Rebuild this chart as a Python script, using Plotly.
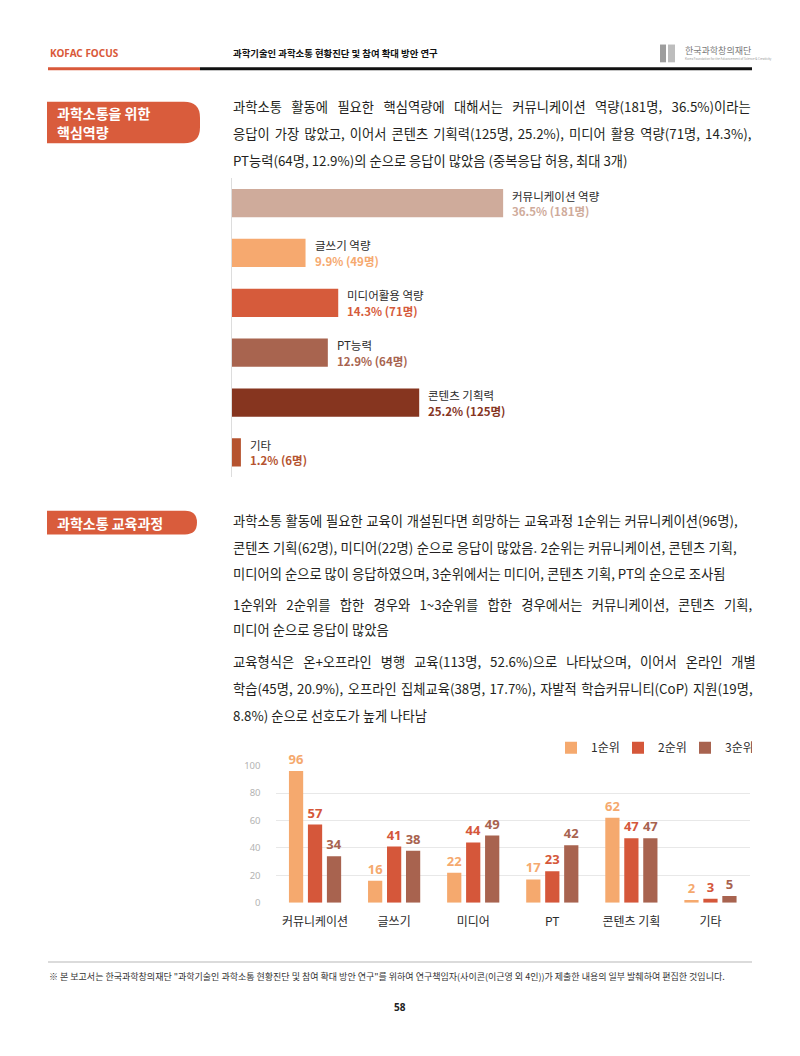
import plotly.graph_objects as go

# ---------------- data ----------------
comp_categories = ["커뮤니케이션 역량", "글쓰기 역량", "미디어활용 역량", "PT능력", "콘텐츠 기획력", "기타"]
comp_pct = [36.5, 9.9, 14.3, 12.9, 25.2, 1.2]
comp_count = [181, 49, 71, 64, 125, 6]
comp_colors = ["#cfab9b", "#f6a96f", "#d65b3b", "#a8644f", "#86351f", "#b5532f"]

edu_categories = ["커뮤니케이션", "글쓰기", "미디어", "PT", "콘텐츠 기획", "기타"]
rank_names = ["1순위", "2순위", "3순위"]
rank1 = [96, 16, 22, 17, 62, 2]
rank2 = [57, 41, 44, 23, 47, 3]
rank3 = [34, 38, 49, 42, 47, 5]
rank_colors = ["#f5a96e", "#d5573a", "#a8634f"]
edu_yticks = [0, 20, 40, 60, 80, 100]

# ---------------- helpers ----------------
W, H = 800, 1056
FONT = "Noto Sans CJK KR"


def px(x):
    return x / W


def py(y):
    return 1 - y / H


annotations = []
shapes = []


def text(x, y, s, size, color="#231f20", bold=False, anchor="left", family=FONT, wsp=None):
    if wsp:
        s = f'<span style="word-spacing:{wsp}px">{s}</span>'
    annotations.append(dict(
        xref="paper", yref="paper", x=px(x), y=py(y), text=s, showarrow=False,
        xanchor=anchor, yanchor="middle",
        font=dict(size=size, color=color, family=family, weight=700 if bold else 400),
    ))


def rounded_right_box(x0, y0, x1, y1, r, color):
    pts = (f"M{px(x0)},{py(y0)} L{px(x1 - r)},{py(y0)} "
           f"Q{px(x1)},{py(y0)} {px(x1)},{py(y0 + r)} "
           f"L{px(x1)},{py(y1 - r)} "
           f"Q{px(x1)},{py(y1)} {px(x1 - r)},{py(y1)} "
           f"L{px(x0)},{py(y1)} Z")
    shapes.append(dict(type="path", xref="paper", yref="paper", path=pts,
                       fillcolor=color, line=dict(width=0), layer="below"))


def hline(x0, x1, y, color, width):
    shapes.append(dict(type="line", xref="paper", yref="paper",
                       x0=px(x0), x1=px(x1), y0=py(y), y1=py(y),
                       line=dict(color=color, width=width)))


fig = go.Figure()

# ---------------- chart 1: horizontal bars ----------------
fig.add_trace(go.Bar(
    orientation="h", y=comp_categories, x=comp_pct,
    marker=dict(color=comp_colors, line=dict(width=0)),
    width=0.565, xaxis="x", yaxis="y", showlegend=False, hoverinfo="skip",
))
for cat, p, n, c in zip(comp_categories, comp_pct, comp_count, comp_colors):
    annotations.append(dict(xref="x", yref="y", x=p, y=cat, text=cat, showarrow=False,
                            xanchor="left", yanchor="middle", xshift=7, yshift=7.5,
                            font=dict(size=11.5, color="#2b2b2b", family=FONT)))
    annotations.append(dict(xref="x", yref="y", x=p, y=cat, text=f"{p}% ({n}명)",
                            showarrow=False, xanchor="left", yanchor="middle",
                            xshift=7, yshift=-8,
                            font=dict(size=11.5, color=c, family=FONT, weight=700)))

# ---------------- chart 2: grouped bars ----------------
for name, vals, c in zip(rank_names, [rank1, rank2, rank3], rank_colors):
    fig.add_trace(go.Bar(
        x=edu_categories, y=vals, name=name,
        marker=dict(color=c, line=dict(width=0)),
        text=vals, texttemplate="%{y}", textposition="outside",
        textfont=dict(color=c, size=13, family="Noto Sans", weight=700),
        constraintext="none", cliponaxis=False,
        xaxis="x2", yaxis="y2", hoverinfo="skip",
    ))

# ---------------- page furniture ----------------
# header
text(48, 47, "KOFAC FOCUS", 10, color="#d9593a", bold=True, family="Noto Sans")
text(231, 47, "과학기술인 과학소통 현황진단 및 참여 확대 방안 연구", 9.4, color="#111111", bold=True)
shapes.append(dict(type="rect", xref="paper", yref="paper", x0=px(660), x1=px(666),
                   y0=py(56), y1=py(38), fillcolor="#9d9d9d", line=dict(width=0)))
shapes.append(dict(type="rect", xref="paper", yref="paper", x0=px(668), x1=px(675),
                   y0=py(56), y1=py(38), fillcolor="#bdbdbd", line=dict(width=0)))
text(683, 44, "한국과학창의재단", 9, color="#7a7a7a")
text(683, 52.5, "Korea Foundation for the Advancement of Science &amp; Creativity", 3, color="#9a9a9a")
hline(200, 752, 62.5, "#111111", 3)
hline(48, 200, 62.5, "#d9593a", 3)

PSIZE = 13.3

# section 1
rounded_right_box(47, 96, 200, 138, 16, "#d95c3c")
text(55, 107, "과학소통을 위한", 14, color="#ffffff", bold=True)
text(55, 127, "핵심역량", 14, color="#ffffff", bold=True)
para1 = [
    ("과학소통 활동에 필요한 핵심역량에 대해서는 커뮤니케이션 역량(181명, 36.5%)이라는", 6.4),
    ("응답이 가장 많았고, 이어서 콘텐츠 기획력(125명, 25.2%), 미디어 활용 역량(71명, 14.3%),", 2.1),
    ("PT능력(64명, 12.9%)의 순으로 응답이 많았음 (중복응답 허용, 최대 3개)", None),
]
for i, (s, w) in enumerate(para1):
    text(231, 101 + 27 * i, s, PSIZE, wsp=w)

# section 2
rounded_right_box(47, 510, 197, 534, 12, "#d95c3c")
text(55, 522, "과학소통 교육과정", 14, color="#ffffff", bold=True)
para2 = [
    ("과학소통 활동에 필요한 교육이 개설된다면 희망하는 교육과정 1순위는 커뮤니케이션(96명),", 0.7),
    ("콘텐츠 기획(62명), 미디어(22명) 순으로 응답이 많았음. 2순위는 커뮤니케이션, 콘텐츠 기획,", 0.4),
    ("미디어의 순으로 많이 응답하였으며, 3순위에서는 미디어, 콘텐츠 기획, PT의 순으로 조사됨", None),
]
for i, (s, w) in enumerate(para2):
    text(231, 520 + 27 * i, s, PSIZE, wsp=w)
para3 = [
    ("1순위와 2순위를 합한 경우와 1~3순위를 합한 경우에서는 커뮤니케이션, 콘텐츠 기획,", 6.3),
    ("미디어 순으로 응답이 많았음", None),
]
for i, (s, w) in enumerate(para3):
    text(231, 605 + 25 * i, s, PSIZE, wsp=w)
para4 = [
    ("교육형식은 온+오프라인 병행 교육(113명, 52.6%)으로 나타났으며, 이어서 온라인 개별", 6.0),
    ("학습(45명, 20.9%), 오프라인 집체교육(38명, 17.7%), 자발적 학습커뮤니티(CoP) 지원(19명,", 1.4),
    ("8.8%) 순으로 선호도가 높게 나타남", None),
]
for i, (s, w) in enumerate(para4):
    text(231, 663 + 27 * i, s, PSIZE, wsp=w)

# footer
hline(48, 752, 967, "#cfcfcf", 1.5)
text(47, 982, "※ 본 보고서는 한국과학창의재단 \"과학기술인 과학소통 현황진단 및 참여 확대 방안 연구\"를 위하여 "
     "연구책임자(사이콘(이근영 외 4인))가 제출한 내용의 일부 발췌하여 편집한 것입니다.", 9.0, color="#333333")
text(400, 1012, "58", 10, color="#222222", bold=True, anchor="center", family="Noto Sans")

# ---------------- layout ----------------
fig.update_layout(
    width=W, height=H, autosize=False,
    margin=dict(l=0, r=0, t=0, b=0),
    paper_bgcolor="#ffffff", plot_bgcolor="rgba(0,0,0,0)",
    font=dict(family=FONT, color="#231f20"),
    barmode="group", bargap=0.28, bargroupgap=0.25,
    xaxis=dict(domain=[px(232), px(752)], range=[0, 70], visible=False, fixedrange=True),
    yaxis=dict(domain=[py(476.25), py(173.25)], autorange="reversed", showticklabels=False,
               showgrid=False, zeroline=False, showline=True, linecolor="#dddddd", linewidth=1,
               ticks="", fixedrange=True),
    xaxis2=dict(domain=[px(275.5), px(750)], anchor="y2", showline=False, ticks="",
                tickfont=dict(size=12, color="#2b2b2b", family=FONT), ticklabelstandoff=10,
                showgrid=False, zeroline=False, fixedrange=True),
    yaxis2=dict(domain=[py(907), py(768)], anchor="x2", range=[0, 100], tickvals=edu_yticks,
                tickfont=dict(size=9.5, color="#b3b3b3", family="Noto Sans"),
                gridcolor="#e8e8e8", gridwidth=1, zeroline=False, showline=False,
                ticks="", ticklabelstandoff=14, fixedrange=True),
    legend=dict(orientation="h", x=px(752), xanchor="right", y=py(750), yanchor="middle",
                font=dict(size=12, color="#2b2b2b", family=FONT), bgcolor="rgba(0,0,0,0)",
                traceorder="normal", entrywidth=22, entrywidthmode="pixels"),
    annotations=annotations,
    shapes=shapes,
)

fig.write_html("out.html")
